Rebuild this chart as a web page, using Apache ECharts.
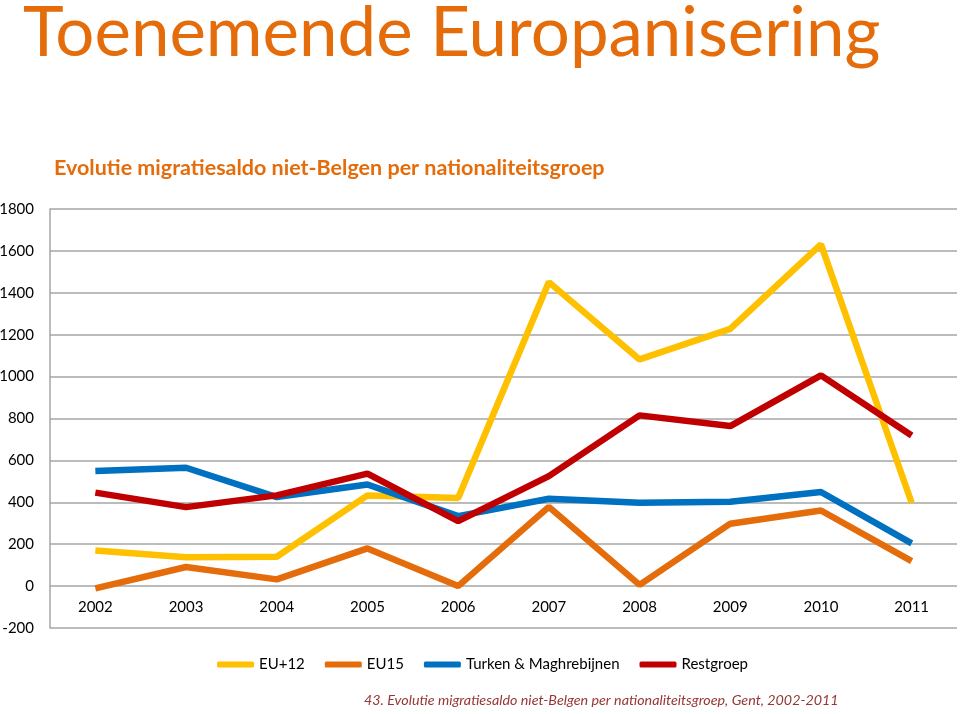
<!DOCTYPE html>
<html>
<head>
<meta charset="utf-8">
<script src="https://cdn.jsdelivr.net/npm/echarts@6/dist/echarts.min.js"></script>
<style>
  html, body { margin: 0; padding: 0; background: #fff; }
  #chart { width: 960px; height: 714px; }
</style>
</head>
<body>
<div id="chart"></div>
<script>
const years = ['2002','2003','2004','2005','2006','2007','2008','2009','2010','2011'];
const euPlus12 = [170, 138, 140, 433, 420, 1451, 1082, 1228, 1631, 398];
const eu15 = [-11, 91, 32, 180, 0, 378, 6, 298, 361, 119];
const turkenMaghreb = [549, 565, 425, 485, 334, 417, 398, 403, 449, 204];
const restgroep = [446, 377, 433, 537, 310, 525, 815, 764, 1006, 719];
const seriesNames = ['EU+12', 'EU15', 'Turken & Maghrebijnen', 'Restgroep'];
const seriesColors = ['#FFC000', '#E46C0A', '#0070C0', '#C00000'];

const chart = echarts.init(document.getElementById('chart'));
const font = 'Lato, "Open Sans", sans-serif';
const dataSets = [euPlus12, eu15, turkenMaghreb, restgroep];

chart.setOption({
  backgroundColor: '#ffffff',
  animation: false,
  title: [
    { text: 'Toenemende Europanisering', left: 18, top: -6,
      textStyle: { fontFamily: font, fontSize: 69, fontWeight: 'normal', color: '#E46C0A' } },
    { text: 'Evolutie migratiesaldo niet-Belgen per nationaliteitsgroep', left: 49, top: 152,
      textStyle: { fontFamily: font, fontSize: 21.5, fontWeight: 'bold', color: '#E46C0A' } },
    { text: '43. Evolutie migratiesaldo niet-Belgen per nationaliteitsgroep, Gent, 2002-2011', left: 359, top: 688,
      textStyle: { fontFamily: font, fontSize: 14.3, fontStyle: 'italic', fontWeight: 'normal', color: '#953735' } }
  ],
  legend: {
    left: 212, top: 652,
    icon: 'roundRect',
    itemWidth: 37, itemHeight: 6, itemGap: 20,
    textStyle: { fontFamily: font, fontSize: 15, color: '#000' },
    data: seriesNames
  },
  grid: { left: 50, right: 3, top: 209, bottom: 86, containLabel: false, outerBoundsMode: 'none' },
  xAxis: {
    type: 'category',
    data: years,
    boundaryGap: true,
    axisLine: { show: false, onZero: false },
    axisTick: { show: false },
    axisLabel: { margin: -28, fontFamily: font, fontSize: 15, color: '#000' },
    splitLine: { show: false }
  },
  yAxis: {
    type: 'value',
    min: -200, max: 1800, interval: 200,
    axisLine: { show: true, lineStyle: { color: '#a6a6a6', width: 1.5 } },
    axisTick: { show: false },
    axisLabel: { margin: 16, fontFamily: font, fontSize: 15, color: '#000', formatter: v => String(v) },
    splitLine: { show: true, lineStyle: { color: '#a6a6a6', width: 1.5 } }
  },
  series: seriesNames.map((name, i) => ({
    name: name,
    type: 'line',
    data: dataSets[i],
    symbol: 'none',
    lineStyle: { width: 6.5, color: seriesColors[i] },
    itemStyle: { color: seriesColors[i] }
  }))
});
</script>
</body>
</html>
